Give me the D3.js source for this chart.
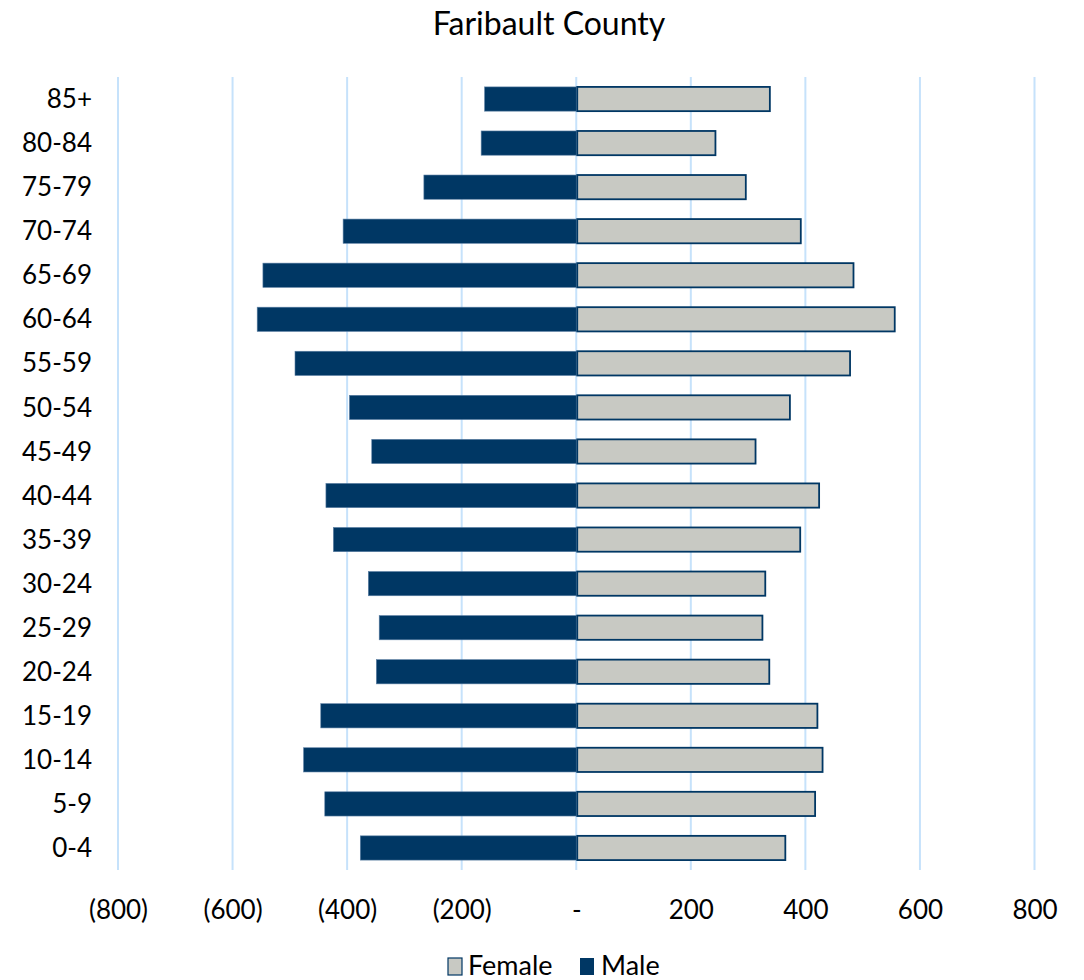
<!DOCTYPE html>
<html>
<head>
<meta charset="utf-8">
<script src="https://cdn.jsdelivr.net/npm/d3@7"></script>
<style>
  body { margin: 0; background: #fff; }
  text { font-family: Lato, "Open Sans", sans-serif; fill: #000; }
</style>
</head>
<body>
<svg id="chart"></svg>
<script>
var ageGroups = ["85+", "80-84", "75-79", "70-74", "65-69", "60-64", "55-59", "50-54", "45-49",
  "40-44", "35-39", "30-24", "25-29", "20-24", "15-19", "10-14", "5-9", "0-4"];
var male = [160, 166, 266, 407, 547, 557, 491, 396, 357, 437, 424, 363, 344, 349, 446, 476, 439, 377];
var female = [338, 243, 296, 392, 484, 556, 478, 373, 313, 424, 391, 330, 325, 337, 421, 430, 417, 365];
var xTicks = [-800, -600, -400, -200, 0, 200, 400, 600, 800];

var w = 1084;
var h = 980;
var margin = { top: 77, bottom: 110, left: 118, right: 50 };

var svg = d3.select("#chart").attr("width", w).attr("height", h);

var xScale = d3.scaleLinear()
  .domain([-800, 800])
  .range([118, 1034.5]);

var yScale = d3.scaleBand()
  .domain(ageGroups)
  .range([margin.top, h - margin.bottom])
  .paddingInner(0.45)
  .paddingOuter(0.225);

// gridlines
svg.append("g")
  .selectAll("line")
  .data(xTicks)
  .enter()
  .append("line")
  .attr("x1", function(d) { return xScale(d); })
  .attr("x2", function(d) { return xScale(d); })
  .attr("y1", margin.top)
  .attr("y2", h - margin.bottom)
  .attr("stroke", "#c6e2fb")
  .attr("stroke-width", 2);

var fmt = function(d) {
  if (d === 0) return "-";
  return d < 0 ? "(" + Math.abs(d) + ")" : String(d);
};

var xAxis = d3.axisBottom(xScale).tickValues(xTicks).tickFormat(fmt).tickSize(0).tickPadding(0);
var gx = svg.append("g")
  .attr("transform", "translate(0," + 919 + ")")
  .call(xAxis);
gx.select(".domain").remove();
gx.selectAll("text").attr("font-size", 26).attr("dy", 0).attr("font-family", "Lato");

var yAxis = d3.axisLeft(yScale).tickSize(0).tickPadding(0);
var gy = svg.append("g")
  .attr("transform", "translate(92,0)")
  .call(yAxis);
gy.select(".domain").remove();
gy.selectAll("text").attr("font-size", 26).attr("dy", "0.35em").attr("font-family", "Lato");

// male bars
svg.append("g")
  .selectAll("rect")
  .data(male)
  .enter()
  .append("rect")
  .attr("x", function(d) { return xScale(-d); })
  .attr("y", function(d, i) { return yScale(ageGroups[i]); })
  .attr("width", function(d) { return xScale(0) - xScale(-d); })
  .attr("height", yScale.bandwidth())
  .attr("fill", "#003764")
  .attr("stroke", "#5b7fa3")
  .attr("stroke-width", 0.6);

// female bars
svg.append("g")
  .selectAll("rect")
  .data(female)
  .enter()
  .append("rect")
  .attr("x", xScale(0) + 1)
  .attr("y", function(d, i) { return yScale(ageGroups[i]); })
  .attr("width", function(d) { return xScale(d) - xScale(0) - 1; })
  .attr("height", yScale.bandwidth())
  .attr("fill", "#c8c9c3")
  .attr("stroke", "#003764")
  .attr("stroke-width", 1.8);

// title
svg.append("text")
  .attr("x", 549)
  .attr("y", 35)
  .attr("text-anchor", "middle")
  .attr("font-size", 32)
  .text("Faribault County");

// legend
var legend = svg.append("g").attr("transform", "translate(0,966)");
legend.append("rect")
  .attr("x", 448).attr("y", -8).attr("width", 14).attr("height", 17)
  .attr("fill", "#c8c9c3").attr("stroke", "#003764").attr("stroke-width", 1.2);
legend.append("text")
  .attr("x", 468).attr("y", 0).attr("dy", "0.35em")
  .attr("font-size", 27).text("Female");
legend.append("rect")
  .attr("x", 580).attr("y", -8).attr("width", 14).attr("height", 17)
  .attr("fill", "#003764");
legend.append("text")
  .attr("x", 601).attr("y", 0).attr("dy", "0.35em")
  .attr("font-size", 27).text("Male");
</script>
</body>
</html>
